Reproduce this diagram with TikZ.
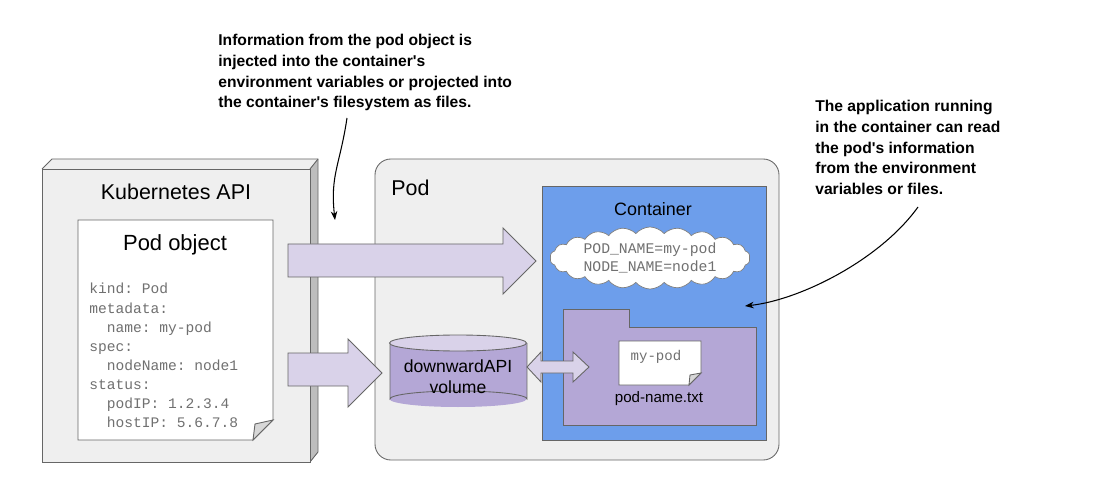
\documentclass[tikz,border=0pt]{standalone}
\usepackage{fontspec}
\setmainfont{Liberation Sans}
\setmonofont{Liberation Mono}
\usetikzlibrary{shapes.symbols,shapes.geometric,shapes.arrows,arrows.meta}
\definecolor{boxgray}{HTML}{EFEFEF}
\definecolor{sidegray}{HTML}{BDBDBD}
\definecolor{contblue}{HTML}{6D9EEB}
\definecolor{lilac}{HTML}{B4A7D6}
\definecolor{lightlilac}{HTML}{D9D2E9}
\definecolor{codegray}{HTML}{707070}
\newcommand{\apos}{\textquotesingle}
\tikzset{
  edge/.style={draw=black!60, line width=0.5pt},
  bigarrow/.style={edge, fill=lightlilac},
  note/.style={font=\bfseries\fontsize{8.9}{11.8}\selectfont, align=left, anchor=north west, inner sep=0pt},
  code/.style={font=\ttfamily\fontsize{8.3}{10.9}\selectfont, text=codegray, align=left, anchor=north west, inner sep=0pt},
  title/.style={font=\fontsize{12.2}{14}\selectfont, inner sep=0pt},
}
\begin{document}
\begin{tikzpicture}[x=0.02cm,y=-0.02cm]
\useasboundingbox (0,0) rectangle (1100,483);
% Kubernetes API 3D box
\fill[boxgray] (42,169) -- (52,159) -- (318,159) -- (310,169) -- cycle;
\fill[sidegray] (310,169) -- (318,159) -- (318,452) -- (310,462) -- cycle;
\draw[edge] (42,169) -- (52,159) -- (318,159) -- (318,452) -- (310,462);
\draw[edge] (310,169) -- (318,159);
\draw[edge, fill=boxgray] (42,169) rectangle (310,462);
\node[title] (kapi) at (176,192) {Kubernetes API};
% Pod object document
\draw[edge, fill=white] (78,220) -- (273,220) -- (273,420) -- (253,440) -- (78,440) -- cycle;
\draw[edge, fill=sidegray!60] (273,420) -- (255,424) -- (253,440) -- cycle;
\node[title, font=\fontsize{12.5}{14}\selectfont] (podobj) at (175,245) {Pod object};
\node[code] (yaml) at (89,283) {kind: Pod\\metadata:\\\ \ name: my-pod\\spec:\\\ \ nodeName: node1\\status:\\\ \ podIP: 1.2.3.4\\\ \ hostIP: 5.6.7.8};
% Pod box
\draw[edge, fill=boxgray, rounded corners=9pt] (375,159) rectangle (779,460);
\node[title, anchor=west] (podlbl) at (391,188) {Pod};
% Container
\draw[edge, fill=contblue] (542,186) rectangle (766,440);
\node[title, font=\fontsize{10.2}{12}\selectfont] (contlbl) at (653,209) {Container};
\node[cloud, cloud puffs=22, cloud puff arc=100, aspect=3.2, draw=black!50, fill=white, inner sep=0pt, minimum height=62*0.02cm, minimum width=200*0.02cm] (cloud) at (650,258) {};
\node[font=\ttfamily\fontsize{8.4}{10.5}\selectfont, text=codegray, align=left] (envs) at (650,258) {POD\_NAME=my-pod\\NODE\_NAME=node1};
% Folder
\draw[edge, fill=lilac] (563,425) -- (563,309) -- (629,309) -- (629,327) -- (756,327) -- (756,425) -- cycle;
\draw[edge, fill=white] (619,341) -- (701,341) -- (701,373) -- (689,385) -- (619,385) -- cycle;
\draw[edge, fill=sidegray!60] (701,373) -- (690,375) -- (689,385) -- cycle;
\node[font=\ttfamily\fontsize{8}{9}\selectfont, text=codegray] (filetxt) at (656,357) {my-pod};
\node[font=\fontsize{8.6}{10}\selectfont] (fname) at (659,399) {pod-name.txt};
% Cylinder
\fill[lilac] (390,343) rectangle (527,399);
\fill[lilac] (458,399) ellipse (68.5 and 8);
\draw[edge] (390,343) -- (390,399) arc (180:360:68.5 and 8) -- (527,343);
\draw[edge, fill=lightlilac] (458,343) ellipse (68.5 and 8);
\node[font=\fontsize{10}{12}\selectfont, align=center] (vol) at (458,377) {downwardAPI\\volume};
% Upper big arrow
\draw[bigarrow] (288,244) -- (503,244) -- (503,228) -- (536,261) -- (503,294) -- (503,277) -- (288,277) -- cycle;
% Lower big arrow
\draw[bigarrow] (288,353) -- (348,353) -- (348,339) -- (382,373) -- (348,407) -- (348,386) -- (288,386) -- cycle;
% Double arrow
\draw[bigarrow] (527,367) -- (541,352) -- (541,361) -- (573,361) -- (573,352) -- (589,367) -- (573,382) -- (573,373) -- (541,373) -- (541,382) -- cycle;
% Notes
\node[note] (note1) at (218,34) {Information from the pod object is\\injected into the container\apos s\\environment variables or projected into\\the container\apos s filesystem as files.};
\node[note] (note2) at (815,100) {The application running\\in the container can read\\the pod\apos s information\\from the environment\\variables or files.};
\coordinate (n1a) at (347,118);
\coordinate (n1b) at (335,220);
\draw[-{Stealth[length=5pt]}, line width=0.6pt] (n1a) .. controls (340,165) and (330,175) .. (n1b);
\coordinate (n2a) at (918,207);
\coordinate (n2b) at (745,306);
\draw[-{Stealth[length=5pt]}, line width=0.6pt] (n2a) .. controls (880,260) and (800,300) .. (n2b);
\end{tikzpicture}
\end{document}
